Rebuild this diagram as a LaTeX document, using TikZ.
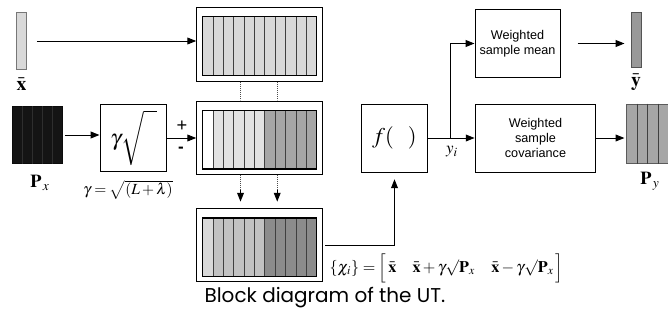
\documentclass[tikz,border=0pt]{standalone}
\usepackage{amsmath}
\usepackage{mathptmx}
\usepackage{fontspec}
\newfontfamily\helv{Liberation Sans}
\newfontfamily\capfont{Poppins}
\usetikzlibrary{positioning, arrows.meta, calc}
\definecolor{utlight}{HTML}{D9D9D9}
\definecolor{utpale}{HTML}{E2E2E2}
\definecolor{utmid}{HTML}{A6A6A6}
\definecolor{utsoft}{HTML}{C2C2C2}
\definecolor{utdark}{HTML}{8C8C8C}
\definecolor{utblack}{HTML}{141414}
\definecolor{utgrey}{HTML}{999999}
% one row of 11 sigma-point columns, #1 = top of the row, #2 = fills
\newcommand{\utcols}[2]{%
  \foreach \c [count=\i from 0] in {#2}
    \draw[colsep, fill=\c] ({202.7+10.36*\i},#1) rectangle ++(10.36,58.5);
  \draw[inner] (202.7,#1) rectangle ++(114,58.5);}

\begin{document}
\begin{tikzpicture}[x=0.025cm, y=-0.025cm,
    blk/.style={draw, line width=0.7pt, inner sep=0pt, align=center, font=\helv\fontsize{9}{11}\selectfont},
    mtx/.style={draw, line width=0.7pt, minimum width=3.14cm, minimum height=1.825cm, inner sep=0pt},
    vec/.style={draw=#1!55!black, line width=0.7pt, fill=#1, inner sep=0pt},
    colsep/.style={draw=black!75, line width=0.6pt},
    inner/.style={draw=black, line width=0.9pt},
    arr/.style={-{Triangle[length=2.2mm,width=1.7mm]}, line width=0.7pt},
    lnk/.style={densely dotted, line width=0.5pt, black!70},
    lbl/.style={inner sep=1pt}]
  \useasboundingbox (0,0) rectangle (668,322);

  % inputs
  \node[vec=utlight, minimum width=0.25cm, minimum height=1.425cm] (xbar) at (21.5,41) {};
  \node[lbl, font=\fontsize{14}{14}\selectfont] (xlab) at (21.5,84) {$\bar{\mathbf{x}}$};
  \node[vec=utblack, minimum width=1.24cm, minimum height=1.415cm] (Px) at (37.5,135) {};
  \foreach \k in {1,...,4}
    \draw[draw=black!82, line width=0.6pt] ($(Px.north west)!\k/5!(Px.north east)$) -- ($(Px.south west)!\k/5!(Px.south east)$);
  \node[lbl, font=\fontsize{13}{13}\selectfont] (pxlab) at (40,183) {$\mathbf{P}_{\,x}$};

  \node[blk, minimum width=1.67cm, minimum height=1.675cm, font=\fontsize{16}{16}\selectfont] (gam) at (133.4,138)
    {$\gamma\sqrt{\vphantom{\Big|}\hspace{9pt}}$};
  \node[lbl, font=\fontsize{11}{11}\selectfont] (glab) at (128,190) {$\gamma=\sqrt{(L+\lambda)}$};
  \node[lbl, font=\helv\fontsize{13}{13}\selectfont] (plus) at (182,126) {+};
  \node[lbl, font=\helv\bfseries\fontsize{12}{12}\selectfont] (minus) at (181,150) {-};

  % sigma points
  \node[mtx] (top) at (259.5,44.5) {};
  \utcols{16.7}{utlight,utlight,utlight,utlight,utlight,utlight,utlight,utlight,utlight,utlight,utlight}
  \node[mtx] (mid) at (259.5,137.5) {};
  \utcols{110.5}{white,utpale,utpale,utpale,utpale,utpale,utmid,utmid,utmid,utmid,utmid}
  \node[mtx] (bot) at (259.5,245) {};
  \utcols{218}{utlight,utsoft,utsoft,utsoft,utsoft,utsoft,utdark,utdark,utdark,utdark,utdark}

  \foreach \t in {0.35,0.64} {
    \draw[lnk] ($(top.south west)!\t!(top.south east)$) -- ($(mid.north west)!\t!(mid.north east)$);
    \draw[lnk] ($(mid.south west)!\t!(mid.south east)$) -- ++(0,15) coordinate (m);
    \draw[arr, shorten >=0.16cm] (m) -- ($(bot.north west)!\t!(bot.north east)$);
  }

  \node[lbl, anchor=west, font=\fontsize{11.5}{13}\selectfont] (chi) at (328,268)
    {$\{\chi_i\}=\Bigl[\,\bar{\mathbf{x}}\quad\bar{\mathbf{x}}+\gamma\surd\mathbf{P}_x\quad\bar{\mathbf{x}}-\gamma\surd\mathbf{P}_x\,\Bigr]$};

  % transform and statistics
  \node[blk, minimum width=1.63cm, minimum height=1.7cm, font=\fontsize{16}{16}\selectfont] (f) at (394.5,138) {$f(\hspace{10pt})$};
  \node[blk, minimum width=2.125cm, minimum height=1.675cm] (mean) at (517.5,43.5) {Weighted\\sample mean};
  \node[blk, minimum width=3.02cm, minimum height=1.7cm] (cov) at (535.5,138) {Weighted\\sample\\covariance};
  \node[lbl, font=\fontsize{12}{12}\selectfont] (ylab) at (452,152) {$y_i$};

  % outputs
  \node[vec=utgrey, minimum width=0.25cm, minimum height=1.375cm] (ybar) at (636,40) {};
  \node[lbl, font=\fontsize{14}{14}\selectfont] (yblab) at (636,82) {$\bar{\mathbf{y}}$};
  \node[vec=utmid, minimum width=1.03cm, minimum height=1.475cm] (Py) at (647.5,133.5) {};
  \foreach \k in {1,...,3}
    \draw[colsep] ($(Py.north west)!\k/4!(Py.north east)$) -- ($(Py.south west)!\k/4!(Py.south east)$);
  \node[lbl, font=\fontsize{13}{13}\selectfont] (pylab) at (650,181) {$\mathbf{P}_{\,y}$};

  % connectors
  \draw[arr, shorten <=0.25cm] (xbar.east) -- (xbar.east -| top.west);
  \draw[arr, shorten <=0.05cm] (Px.east) -- (Px.east -| gam.west);
  \draw[arr] (gam.east) -- (gam.east -| mid.west);
  \draw[arr, shorten <=0.06cm, shorten >=0.17cm] (bot.east) -| (f.south);
  \draw[arr] (f.east) -- (f.east -| cov.west);
  \coordinate (br) at ($(f.east)!0.48!(f.east -| cov.west)$);
  \draw[arr] (br) |- (mean.west);
  \draw[arr, shorten <=0.425cm, shorten >=0.15cm] (mean.east) -- (mean.east -| ybar.west);
  \draw[arr, shorten >=0.05cm] (cov.east) -- (cov.east -| Py.west);

  \node[font=\capfont\fontsize{14.2}{16}\selectfont] (cap) at (325,298) {Block diagram of the UT.};
\end{tikzpicture}
\end{document}
